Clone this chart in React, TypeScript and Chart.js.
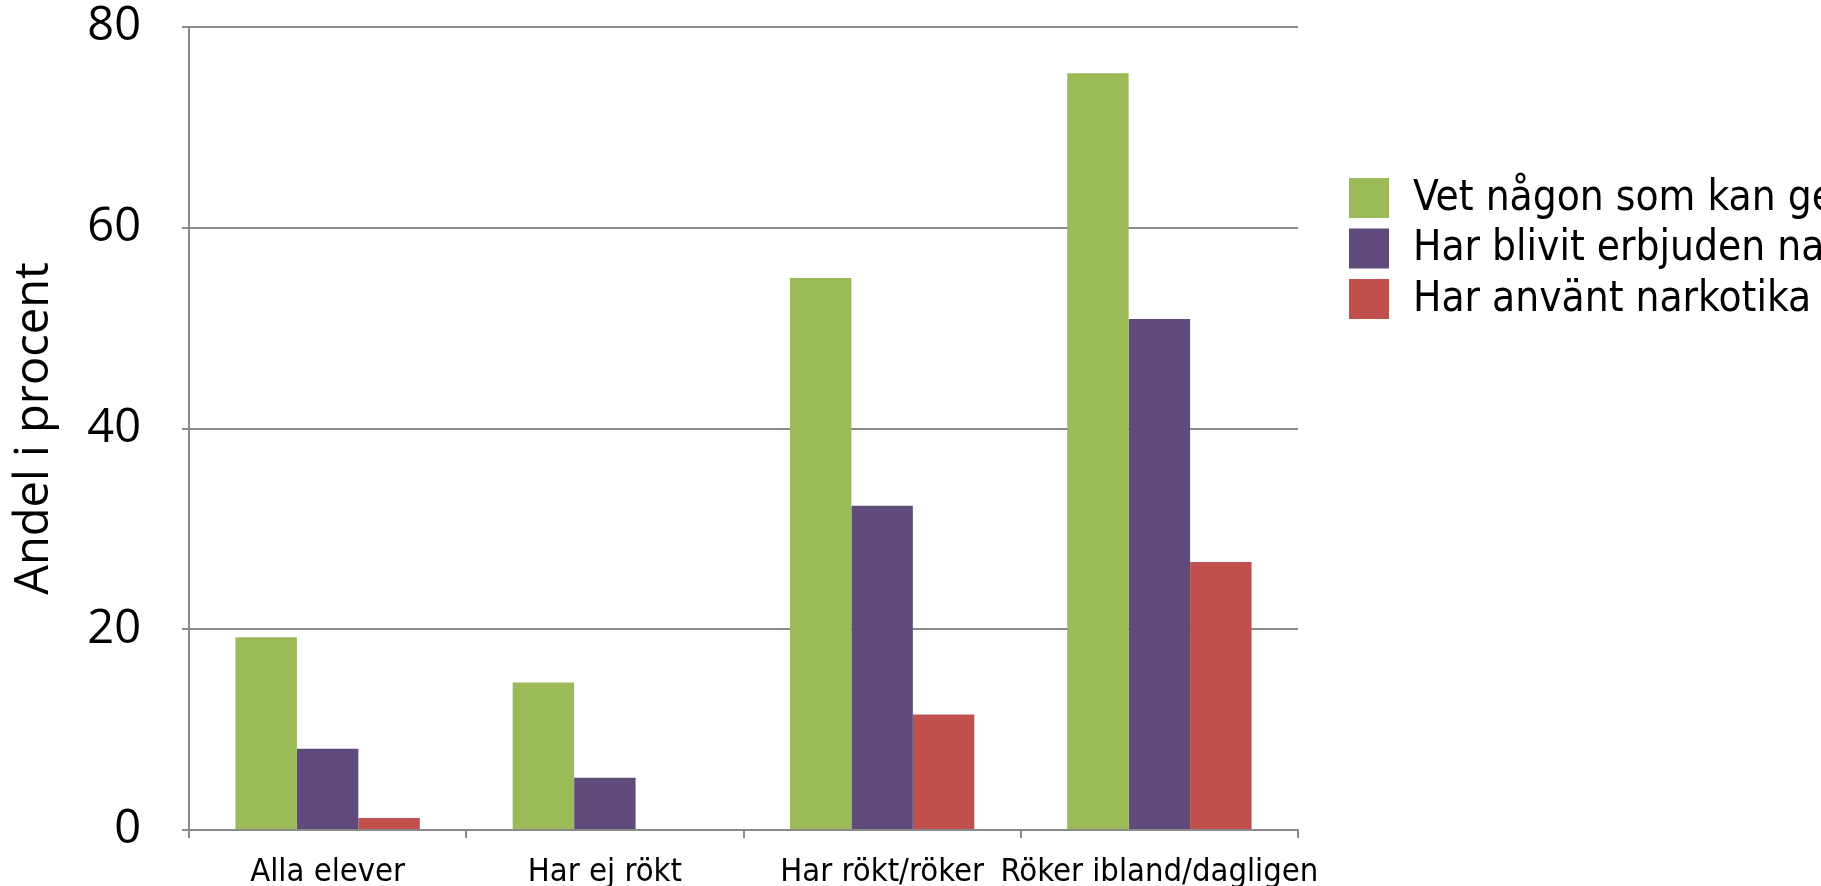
import React, { useEffect, useRef } from "react";
import { Chart, registerables } from "chart.js";

Chart.register(...registerables);

const categories = ["Alla elever", "Har ej rökt", "Har rökt/röker", "Röker ibland/dagligen"];
const seriesNames = [
  "Vet någon som kan ge narkotika",
  "Har blivit erbjuden narkotika",
  "Har använt narkotika",
];
const knowsSomeone = [19.2, 14.7, 55.0, 75.4];
const beenOffered = [8.1, 5.2, 32.3, 50.9];
const hasUsed = [1.2, 0, 11.5, 26.7];
const seriesColors = ["#9BBB59", "#604A7B", "#C0504D"];
const yTicks = [0, 20, 40, 60, 80];

const W = 1821;
const H = 886;

const legendPlugin = {
  id: "sideLegend",
  afterDraw(chart: any) {
    const { ctx, chartArea } = chart;
    const x0 = chartArea.right + 51;
    const top0 = 178;
    const step = 50.5;
    const box = 40;
    ctx.save();
    ctx.font = "42px 'DejaVu Sans Condensed', 'DejaVu Sans'";
    ctx.textBaseline = "middle";
    ctx.textAlign = "left";
    chart.data.datasets.forEach((ds: any, i: number) => {
      const y = top0 + i * step;
      ctx.fillStyle = ds.backgroundColor;
      ctx.fillRect(x0, y, box, box);
      ctx.fillStyle = "#000000";
      ctx.fillText(ds.label, x0 + 64, y + box / 2 + 1);
    });
    ctx.restore();
  },
};

export default function App() {
  const ref = useRef<HTMLCanvasElement | null>(null);

  useEffect(() => {
    if (!ref.current) return;
    const datasets = [knowsSomeone, beenOffered, hasUsed].map((vals, i) => ({
      label: seriesNames[i],
      data: vals,
      backgroundColor: seriesColors[i],
      borderWidth: 0,
      categoryPercentage: 0.665,
      barPercentage: 1.0,
    }));
    const chart = new Chart(ref.current, {
      type: "bar",
      data: { labels: categories, datasets },
      options: {
        responsive: false,
        animation: false,
        layout: { padding: { top: 27, right: W - 1298, left: 0, bottom: 0 } },
        plugins: {
          legend: { display: false },
          tooltip: { enabled: false },
        },
        scales: {
          x: {
            grid: {
              display: true,
              drawOnChartArea: false,
              drawTicks: true,
              tickLength: 8,
              color: "#8A8A8A",
              lineWidth: 2,
              offset: true,
            },
            border: { display: true, color: "#8A8A8A", width: 2 },
            ticks: {
              color: "#000000",
              font: { family: "'DejaVu Sans Condensed', 'DejaVu Sans'", size: 32.5 },
              padding: 15,
              maxRotation: 0,
              autoSkip: false,
            },
            afterFit(scale: any) {
              scale.height = H - 830;
              scale.paddingLeft = 0;
              scale.paddingRight = 0;
            },
          },
          y: {
            min: 0,
            max: 80,
            afterBuildTicks(scale: any) {
              scale.ticks = yTicks.map((v) => ({ value: v }));
            },
            grid: {
              color: "#8A8A8A",
              lineWidth: 2,
              drawTicks: true,
              tickLength: 7,
            },
            border: { display: true, color: "#8A8A8A", width: 2 },
            ticks: {
              color: "#000000",
              font: { family: "'Open Sans'", size: 47 },
              padding: 41,
            },
            title: {
              display: true,
              text: "Andel i procent",
              color: "#000000",
              font: { family: "'Open Sans'", size: 47 },
              padding: { top: 6, bottom: 0 },
            },
            afterFit(scale: any) {
              scale.width = 189;
              scale.paddingTop = 0;
              scale.paddingBottom = 0;
            },
          },
        },
      },
      plugins: [legendPlugin],
    });
    return () => chart.destroy();
  }, []);

  return (
    <div style={{ position: "fixed", left: 0, top: 0, width: W, height: H, background: "#ffffff", overflow: "hidden" }}>
      <canvas ref={ref} width={W} height={H} style={{ width: W, height: H, display: "block" }} />
    </div>
  );
}
